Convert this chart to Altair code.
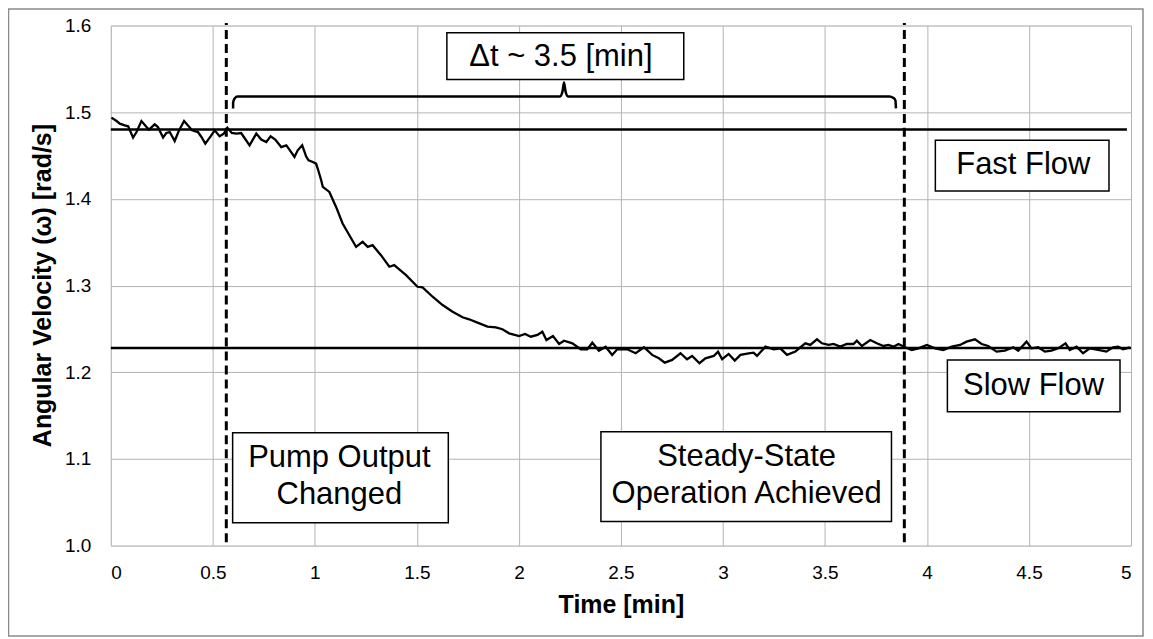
import altair as alt
import pandas as pd

# ---- curve data (time in min, angular velocity in rad/s) ----
time_min = [0.003, 0.028, 0.044, 0.068, 0.085, 0.109, 0.126, 0.150, 0.175, 0.187, 0.215, 0.231, 0.256, 0.272,
            0.289, 0.313, 0.333, 0.359, 0.378, 0.398, 0.427, 0.444, 0.463, 0.489, 0.509, 0.533, 0.554, 0.571,
            0.593, 0.615, 0.639, 0.652, 0.680, 0.713, 0.737, 0.762, 0.783, 0.806, 0.835, 0.860, 0.872, 0.900,
            0.916, 0.938, 0.957, 0.969, 0.990, 1.006, 1.014, 1.031, 1.039, 1.071, 1.104, 1.136, 1.169, 1.202,
            1.234, 1.259, 1.283, 1.324, 1.365, 1.389, 1.418, 1.447, 1.503, 1.528, 1.577, 1.626, 1.675, 1.724,
            1.756, 1.797, 1.846, 1.887, 1.919, 1.952, 2.001, 2.030, 2.058, 2.091, 2.115, 2.135, 2.167, 2.197,
            2.221, 2.262, 2.303, 2.335, 2.360, 2.392, 2.425, 2.457, 2.482, 2.531, 2.572, 2.613, 2.653, 2.686,
            2.715, 2.751, 2.792, 2.824, 2.849, 2.885, 2.914, 2.955, 2.976, 2.996, 3.028, 3.058, 3.086, 3.126,
            3.150, 3.167, 3.208, 3.249, 3.281, 3.314, 3.355, 3.379, 3.404, 3.428, 3.461, 3.485, 3.518, 3.542,
            3.575, 3.607, 3.640, 3.656, 3.681, 3.722, 3.754, 3.787, 3.811, 3.836, 3.860, 3.893, 3.925, 3.958,
            3.999, 4.040, 4.080, 4.121, 4.162, 4.194, 4.235, 4.268, 4.300, 4.341, 4.382, 4.423, 4.447, 4.488,
            4.512, 4.545, 4.578, 4.610, 4.643, 4.679, 4.700, 4.733, 4.765, 4.798, 4.839, 4.879, 4.912, 4.937,
            4.961, 4.994]
omega = [1.4937, 1.4898, 1.4868, 1.4848, 1.4837, 1.4707, 1.4771, 1.4898, 1.4829, 1.4799, 1.4860, 1.4829, 1.4707,
         1.4760, 1.4771, 1.4668, 1.4783, 1.4898, 1.4848, 1.4791, 1.4771, 1.4714, 1.4638, 1.4722, 1.4791, 1.4722,
         1.4753, 1.4822, 1.4760, 1.4753, 1.4760, 1.4714, 1.4618, 1.4753, 1.4684, 1.4656, 1.4722, 1.4684, 1.4598,
         1.4618, 1.4580, 1.4483, 1.4560, 1.4618, 1.4491, 1.4445, 1.4426, 1.4407, 1.4350, 1.4215, 1.4138, 1.4080,
         1.3907, 1.3716, 1.3581, 1.3447, 1.3504, 1.3447, 1.3466, 1.3351, 1.3217, 1.3236, 1.3178, 1.3121, 1.2986,
         1.2979, 1.2871, 1.2775, 1.2698, 1.2634, 1.2611, 1.2572, 1.2526, 1.2518, 1.2496, 1.2449, 1.2418, 1.2441,
         1.2410, 1.2430, 1.2468, 1.2372, 1.2418, 1.2326, 1.2364, 1.2334, 1.2265, 1.2265, 1.2341, 1.2249, 1.2295,
         1.2200, 1.2265, 1.2265, 1.2219, 1.2288, 1.2200, 1.2161, 1.2111, 1.2142, 1.2219, 1.2150, 1.2188, 1.2104,
         1.2161, 1.2188, 1.2238, 1.2150, 1.2211, 1.2134, 1.2200, 1.2219, 1.2226, 1.2188, 1.2295, 1.2265, 1.2276,
         1.2200, 1.2238, 1.2288, 1.2334, 1.2315, 1.2380, 1.2334, 1.2315, 1.2326, 1.2295, 1.2326, 1.2326, 1.2364,
         1.2303, 1.2372, 1.2334, 1.2303, 1.2315, 1.2295, 1.2326, 1.2288, 1.2257, 1.2276, 1.2315, 1.2276, 1.2257,
         1.2295, 1.2315, 1.2353, 1.2380, 1.2326, 1.2303, 1.2238, 1.2249, 1.2288, 1.2249, 1.2353, 1.2276, 1.2288,
         1.2238, 1.2249, 1.2276, 1.2334, 1.2257, 1.2295, 1.2219, 1.2276, 1.2257, 1.2238, 1.2288, 1.2295, 1.2265,
         1.2288]

# ---- reference levels ----
level_names = ["Fast Flow", "Slow Flow"]
level_values = [1.48, 1.228]
level_t_start = [0.0, 0.0]
level_t_end = [4.98, 5.0]

# ---- event markers (dashed verticals) ----
event_t = [0.566, 3.889]
event_v_low = [1.004, 1.004]
event_v_high = [1.603, 1.603]

# ---- curly brace ----
brace_t = [0.5993, 0.5993, 0.6067, 0.6213, 2.2016, 2.2138, 2.2211, 2.2285, 2.2407, 3.816, 3.8356, 3.8454, 3.8478]
brace_v = [1.5044, 1.5113, 1.5159, 1.5182, 1.5182, 1.524, 1.5344, 1.524, 1.5182, 1.5182, 1.5165, 1.5136, 1.5044]

# ---- annotation boxes ----
box_t1 = [1.647, 4.041, 4.100, 0.597, 2.402]
box_t2 = [2.808, 4.892, 4.946, 1.654, 3.826]
box_v1 = [1.5916, 1.4676, 1.2142, 1.1301, 1.1313]
box_v2 = [1.5378, 1.4092, 1.1543, 1.0265, 1.0277]

# ---- annotation texts (one row per line) ----
ann_text = ["Δt ~ 3.5 [min]", "Fast Flow", "Slow Flow", "Pump Output", "Changed", "Steady-State", "Operation Achieved"]
ann_t = [2.206, 4.472, 4.522, 1.12, 1.12, 3.116, 3.116]
ann_v = [1.5631, 1.4388, 1.1843, 1.1008, 1.0587, 1.1019, 1.0599]

# ---- axis ticks ----
x_ticks = [0, 0.5, 1, 1.5, 2, 2.5, 3, 3.5, 4, 4.5, 5]
y_ticks = [1.0, 1.1, 1.2, 1.3, 1.4, 1.5, 1.6]

FONT = "Liberation Sans"

xscale = alt.Scale(domain=[0, 5], nice=False, zero=False)
yscale = alt.Scale(domain=[1.0, 1.6], nice=False, zero=False)

xaxis = alt.Axis(values=x_ticks, format="~g", grid=True, gridColor="#b4b4b4", gridWidth=1,
                 domain=False, ticks=False, tickSize=0, labelFont=FONT, labelFontSize=19,
                 labelColor="#000000", labelPadding=27, labelBaseline="middle",
                 title="Time [min]", titleFont=FONT, titleFontSize=25, titleFontWeight="bold",
                 titleColor="#000000", titleX=511, titleY=59, titleBaseline="middle", titleAlign="center")
yaxis = alt.Axis(values=y_ticks, format=".1f", grid=True, gridColor="#b4b4b4", gridWidth=1,
                 domain=False, ticks=False, tickSize=0, labelFont=FONT, labelFontSize=19,
                 labelColor="#000000", labelPadding=20,
                 title="Angular Velocity (ω) [rad/s]", titleFont=FONT, titleFontSize=25,
                 titleFontWeight="bold", titleColor="#000000", titleAngle=270, titleX=-68, titleY=260,
                 titleBaseline="middle", titleAlign="center")

X = alt.X("t:Q", scale=xscale, axis=xaxis)
Y = alt.Y("v:Q", scale=yscale, axis=yaxis)

curve_df = pd.DataFrame({"t": time_min, "v": omega})
level_df = pd.DataFrame({"name": level_names, "t": level_t_start, "t2": level_t_end, "v": level_values})
event_df = pd.DataFrame({"t": event_t, "v": event_v_low, "v2": event_v_high})
brace_df = pd.DataFrame({"i": list(range(len(brace_t))), "t": brace_t, "v": brace_v})
box_df = pd.DataFrame({"t": box_t1, "t2": box_t2, "v": box_v1, "v2": box_v2})
text_df = pd.DataFrame({"label": ann_text, "t": ann_t, "v": ann_v})

frame = alt.Chart(pd.DataFrame({"a": [0]})).mark_rect(
    fill="white", fillOpacity=0, stroke="#8a8a8a", strokeWidth=1.5
).encode(x=alt.value(-102.5), x2=alt.value(1034), y=alt.value(-16.5), y2=alt.value(611.5))

curve = alt.Chart(curve_df).mark_line(color="black", strokeWidth=2.3, clip=False).encode(x=X, y=Y)

levels = alt.Chart(level_df).mark_rule(color="black", strokeWidth=2.6).encode(
    x=X, x2="t2:Q", y=Y)

events = alt.Chart(event_df).mark_rule(color="black", strokeWidth=3, strokeDash=[9, 5]).encode(
    x=X, y=Y, y2="v2:Q")

brace = alt.Chart(brace_df).mark_line(color="black", strokeWidth=2.5, interpolate="monotone").encode(
    x=X, y=Y, order="i:O")

boxes = alt.Chart(box_df).mark_rect(fill="white", stroke="black", strokeWidth=1.5).encode(
    x=X, x2="t2:Q", y=Y, y2="v2:Q")

texts = alt.Chart(text_df).mark_text(font=FONT, fontSize=31, color="black", align="center",
                                     baseline="middle").encode(x=X, y=Y, text="label:N")

chart = alt.layer(curve, levels, events, brace, boxes, texts, frame).properties(
    width=1022, height=521,
    autosize=alt.AutoSizeParams(type="none"),
    padding={"left": 103, "top": 17, "right": 14, "bottom": 92},
).configure_view(stroke=None).configure(background="white")

chart.save("out.html", embed_options={"renderer": "svg", "actions": False})
